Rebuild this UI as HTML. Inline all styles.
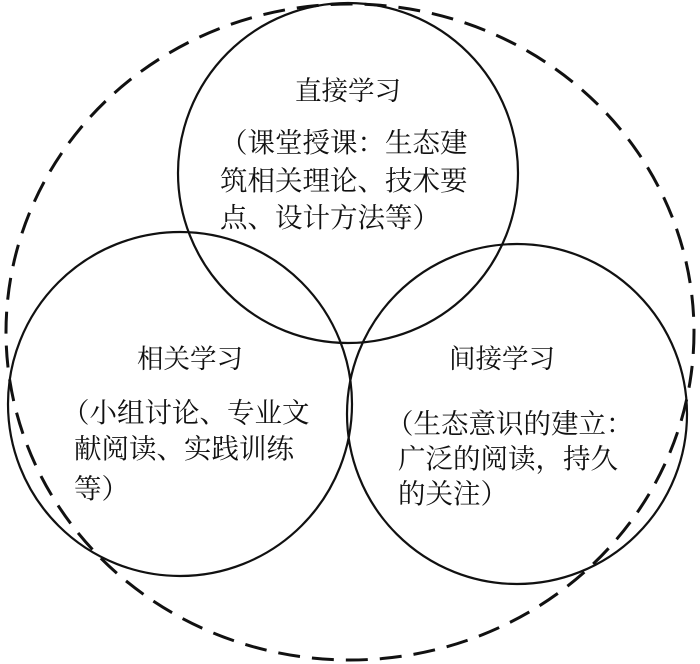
<!DOCTYPE html>
<html><head><meta charset="utf-8"><style>
html,body{margin:0;padding:0;background:#fff;width:700px;height:664px;overflow:hidden}
svg text{font-family:"Liberation Serif","Noto Serif CJK SC","Noto Sans CJK SC",serif;font-size:27.5px;fill:#111}
svg text.t{font-size:26.5px}
</style></head><body>
<svg width="700" height="664" viewBox="0 0 700 664" xmlns="http://www.w3.org/2000/svg">
<ellipse cx="350" cy="332" rx="344" ry="328" fill="none" stroke="#111" stroke-width="3" stroke-dasharray="22,12"/>
<circle cx="348" cy="173" r="170" fill="none" stroke="#111" stroke-width="2.2"/>
<circle cx="180" cy="404" r="172" fill="none" stroke="#111" stroke-width="2.2"/>
<circle cx="517" cy="414" r="170" fill="none" stroke="#111" stroke-width="2.2"/>
<text class="t" x="348" y="100" text-anchor="middle">直接学习</text>
<text x="220" y="152">（课堂授课：生态建</text>
<text x="220" y="190">筑相关理论、技术要</text>
<text x="220" y="227">点、设计方法等）</text>
<text class="t" x="190" y="368" text-anchor="middle">相关学习</text>
<text x="62" y="422">（小组讨论、专业文</text>
<text x="74" y="458">献阅读、实践训练</text>
<text x="74" y="498">等）</text>
<text class="t" x="502" y="368" text-anchor="middle">间接学习</text>
<text x="386" y="433">（生态意识的建立：</text>
<text x="398" y="468">广泛的阅读，持久</text>
<text x="398" y="503">的关注）</text>
</svg>
</body></html>
